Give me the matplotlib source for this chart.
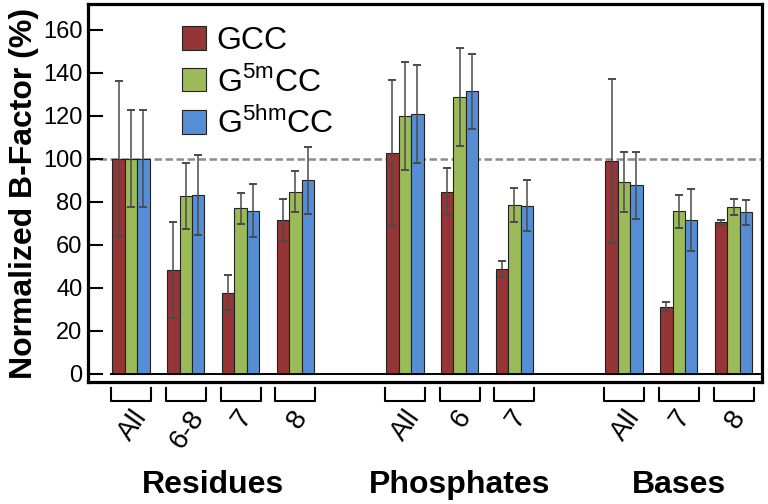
import matplotlib
matplotlib.use("Agg")
import matplotlib.pyplot as plt
import numpy as np

plt.rcParams['font.family'] = ['Liberation Sans', 'DejaVu Sans']
plt.rcParams['mathtext.fontset'] = 'custom'
plt.rcParams['mathtext.rm'] = 'Liberation Sans'

# data
categories = ["All", "6-8", "7", "8", "All", "6", "7", "All", "7", "8"]
sections = ["Residues", "Residues", "Residues", "Residues",
            "Phosphates", "Phosphates", "Phosphates",
            "Bases", "Bases", "Bases"]
series_names = ["GCC", r"G$^{\mathrm{5m}}$CC", r"G$^{\mathrm{5hm}}$CC"]

gcc = [100, 48.2, 37.7, 71.6, 102.8, 84.7, 48.8, 99.0, 31.2, 70.4]
gcc_err = [36, 22.5, 8.0, 9.8, 34, 10.8, 3.8, 38.2, 2.3, 1.2]
g5m = [100, 82.8, 76.9, 84.7, 119.9, 128.7, 78.4, 89.0, 75.5, 77.5]
g5m_err = [22.5, 15.3, 7.2, 9.6, 25.3, 22.6, 7.8, 14.0, 7.6, 3.9]
g5hm = [100, 83.1, 75.8, 89.9, 121.0, 131.3, 78.1, 87.6, 71.5, 75.0]
g5hm_err = [22.5, 18.5, 12.3, 15.6, 22.8, 17.5, 11.8, 15.7, 14.3, 6.0]

colors = ["#963535", "#9BBB59", "#558ED5"]

# x positions: one empty slot between sections
x = []
pos = 0
for i, s in enumerate(sections):
    if i > 0 and s != sections[i - 1]:
        pos += 1
    x.append(pos)
    pos += 1
x = np.array(x, dtype=float)

fig = plt.figure(figsize=(7.68, 5.04), dpi=100)
ax = fig.add_axes([0.1146, 0.2421, 0.9922 - 0.1146, 0.9921 - 0.2421])

w = 0.227
vals = [gcc, g5m, g5hm]
errs = [gcc_err, g5m_err, g5hm_err]
for k in range(3):
    ax.bar(x + (k - 1) * w, vals[k], w, color=colors[k], edgecolor='#222222',
           linewidth=0.8, label=series_names[k], zorder=3)
    ax.errorbar(x + (k - 1) * w, vals[k], yerr=errs[k], fmt='none',
                ecolor='#4a4a4a', elinewidth=1.1, capsize=3, capthick=1.4, zorder=4)

# reference line at 100 %
ax.axhline(100, color='#8c8c8c', lw=1.8, dashes=[3, 1.4], zorder=1)

xmin, xmax = -0.785, 11.52
ax.set_xlim(xmin, xmax)
ax.set_ylim(-3.9, 172)
ax.hlines(0, -0.38, xmax, color='black', lw=1.4, zorder=5)

ax.set_yticks(np.arange(0, 161, 20))
ax.tick_params(axis='y', direction='in', length=11, width=1.5, labelsize=17, pad=4)
ax.set_xticks([])
for sp in ax.spines.values():
    sp.set_linewidth(2.3)

ax.set_ylabel("Normalized B-Factor (%)", fontsize=23, fontweight='bold', labelpad=3)

# brackets and category labels under the axis
tr = ax.get_xaxis_transform()
half = 0.365
for xi, c in zip(x, categories):
    ax.plot([xi - half, xi - half, xi + half, xi + half],
            [-0.016, -0.049, -0.049, -0.016], color='black', lw=1.5,
            transform=tr, clip_on=False)
    ax.text(xi + 0.03, -0.062, c, rotation=55, ha='center', va='top',
            fontsize=20, transform=tr)

for s in dict.fromkeys(sections):
    xs = x[[i for i, t in enumerate(sections) if t == s]]
    ax.text(xs.mean(), -0.272, s, ha='center', va='center', fontsize=23,
            fontweight='bold', transform=tr)

ax.legend(loc='upper left', bbox_to_anchor=(0.12, 0.975), frameon=False,
          fontsize=23, handlelength=0.75, handleheight=0.75, handletextpad=0.35,
          labelspacing=0.3, borderaxespad=0)

fig.savefig("out.png", dpi=100)
